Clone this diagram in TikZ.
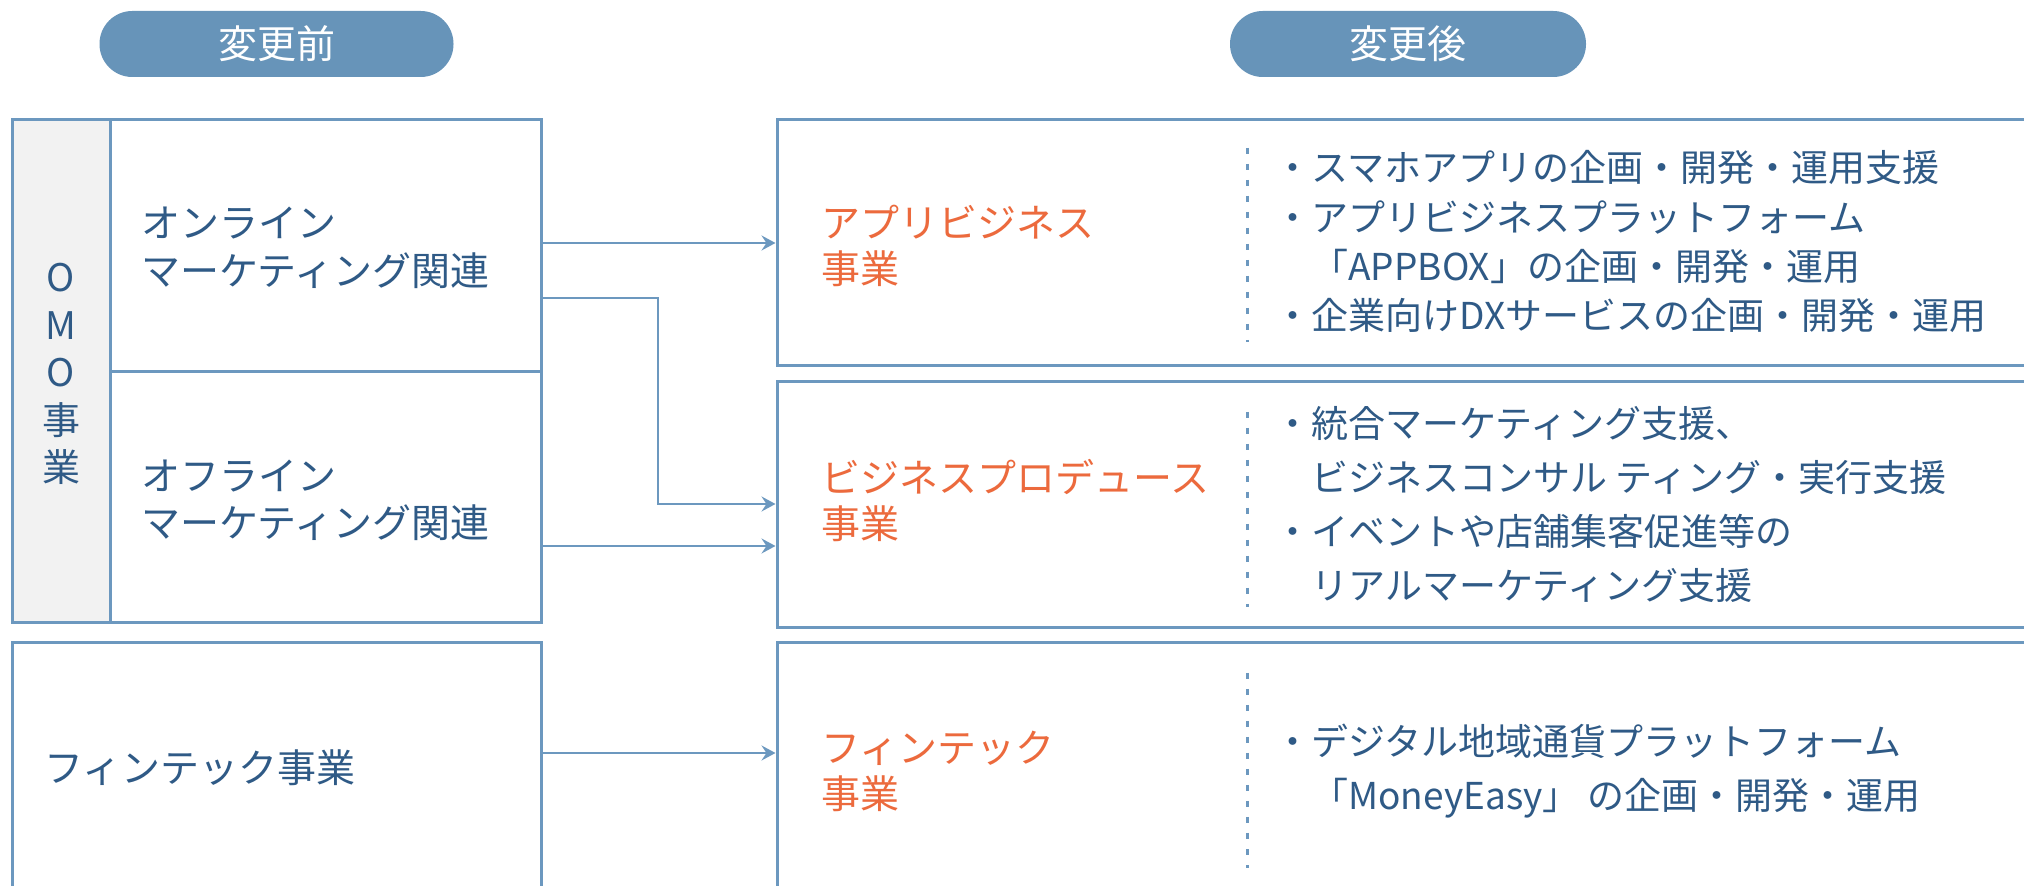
\documentclass[tikz,border=0pt]{standalone}
\usepackage{fontspec}
\newfontfamily\jp{Noto Sans CJK JP}
\usetikzlibrary{arrows.meta}
\definecolor{txt}{HTML}{2F5A86}
\definecolor{bord}{HTML}{6C98BF}
\definecolor{pillc}{HTML}{6794B9}
\definecolor{orng}{HTML}{EC6A3D}
\definecolor{grayc}{HTML}{F2F2F2}
\begin{document}
\begin{tikzpicture}[x=0.5pt,y=-0.5pt,
  box/.style={draw=bord, line width=1.5pt, fill=white, inner sep=0pt, anchor=center},
  pill/.style={fill=pillc, rounded corners=16.4pt, text=white, font={\jp\fontsize{19.5}{24}\selectfont},
    minimum width=177pt, minimum height=33pt, inner sep=0pt},
  lefttxt/.style={text=txt, inner sep=0pt, anchor=base west, align=left},
  orangetxt/.style={text=orng, inner sep=0pt, anchor=base west, align=left, font={\jp\fontsize{19.5}{23}\selectfont}},
  bullettxt/.style={text=txt, inner sep=0pt, anchor=base west, align=left},
  arr/.style={draw=bord, line width=1.2pt, -{Stealth[length=7pt,width=7.5pt,inset=2.5pt]}},
  dots/.style={draw=bord, line width=1.5pt, dash pattern=on 3pt off 5pt}
]
\useasboundingbox (0,0) rectangle (2024,886);
\clip (0,0) rectangle (2024,886);

% headers
\node[pill] (before) at (276.5,44) {変更前};
\node[pill, minimum width=178pt] (after) at (1408,44) {変更後};

% left boxes
\node[box, fill=grayc, minimum width=49pt, minimum height=251.5pt] (omo) at (61,371.5) {};
\node[box, minimum width=215.5pt, minimum height=126pt] (online) at (325.5,246) {};
\node[box, minimum width=215.5pt, minimum height=125.5pt] (offline) at (325.5,497.5) {};
\node[box, minimum width=264.5pt, minimum height=140pt] (fintechL) at (276.5,783) {};

% right boxes
\node[box, minimum width=641.5pt, minimum height=123pt] (box1) at (1418.5,243) {};
\node[box, minimum width=641.5pt, minimum height=123pt] (box2) at (1418.5,505) {};
\node[box, minimum width=641.5pt, minimum height=140pt] (box3) at (1418.5,783) {};

% left texts
\node[text=txt, inner sep=0pt, anchor=base, align=center, font={\jp\fontsize{19}{23.75}\selectfont}] (omotxt) at (61,482) {O\\M\\O\\事\\業};
\node[lefttxt, font={\jp\fontsize{19.5}{24}\selectfont}] (onlinetxt) at (141,286) {オンライン\\マーケティング関連};
\node[lefttxt, font={\jp\fontsize{19.5}{23.5}\selectfont}] (offlinetxt) at (141,538) {オフライン\\マーケティング関連};
\node[lefttxt, font={\jp\fontsize{19.5}{24}\selectfont}] (fintechtxt) at (44,783) {フィンテック事業};

% orange labels
\node[orangetxt] (lab1) at (821,284) {アプリビジネス\\事業};
\node[orangetxt] (lab2) at (821,539) {ビジネスプロデュース\\事業};
\node[orangetxt] (lab3) at (821,809) {フィンテック\\事業};

% dotted separators
\draw[dots] (1247,148) -- (1247,342);
\draw[dots] (1247,412) -- (1247,607);
\draw[dots] (1247,673) -- (1247,868);

% bullet texts
\node[bullettxt, font={\jp\fontsize{18.5}{24.7}\selectfont}] (items1) at (1274,330)
  {・スマホアプリの企画・開発・運用支援\\・アプリビジネスプラットフォーム\\　「APPBOX」の企画・開発・運用\\・企業向けDXサービスの企画・開発・運用};
\node[bullettxt, font={\jp\fontsize{18.5}{27}\selectfont}] (items2) at (1274,600)
  {・統合マーケティング支援、\\　ビジネスコンサル ティング・実行支援\\・イベントや店舗集客促進等の\\　リアルマーケティング支援};
\node[bullettxt, font={\jp\fontsize{18.5}{27.5}\selectfont}] (items3) at (1274,810)
  {・デジタル地域通貨プラットフォーム\\　「MoneyEasy」 の企画・開発・運用};

% connectors
\coordinate (j1) at (658,298);
\coordinate (j2) at (658,504);
\coordinate (k1) at (700,546);
\coordinate (k2) at (700,753);
\draw[arr] (online.east |- box1.west) -- (box1.west);
\draw[arr] (online.east |- j1) -- (j1) -- (j2) -- (box2.west |- j2);
\draw[arr] (offline.east |- k1) -- (box2.west |- k1);
\draw[arr] (fintechL.east |- k2) -- (box3.west |- k2);
\end{tikzpicture}
\end{document}
